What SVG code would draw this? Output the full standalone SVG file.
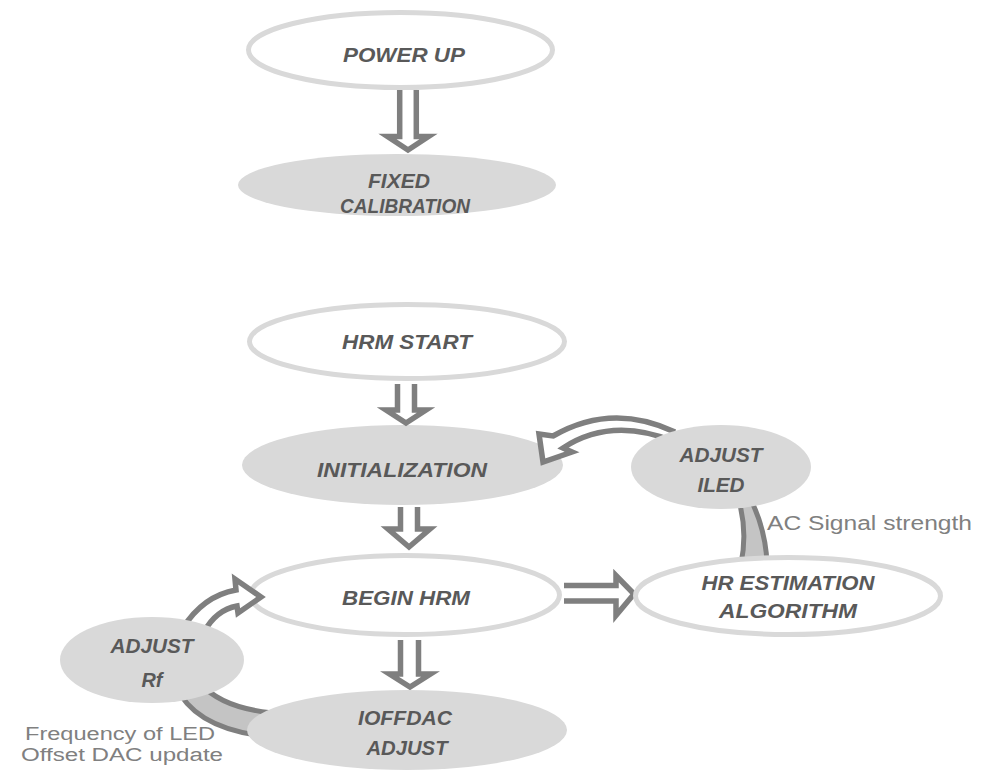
<svg xmlns="http://www.w3.org/2000/svg" width="985" height="773" viewBox="0 0 985 773">
<style>
.bg{fill:#ffffff}
.fill{fill:#d9d9d9;stroke:none}
.outline{fill:#ffffff;stroke:#d9d9d9;stroke-width:5}
.lbl{font-family:"Liberation Sans",Arial,sans-serif;font-weight:bold;font-style:italic;font-size:21px;fill:#595959;text-anchor:middle}
.note{font-family:"Liberation Sans",Arial,sans-serif;font-size:18px;fill:#808080;text-anchor:middle}
.note.big{font-size:20px}
.arr{fill:#ffffff;stroke:#7f7f7f;stroke-width:5.5;stroke-linejoin:miter}
.band{fill:#c4c4c4;stroke:#7f7f7f;stroke-width:5}
</style>
<rect class="bg" x="0" y="0" width="985" height="773"/>

<g id="node-initialization">
<ellipse class="fill" cx="402.5" cy="465" rx="160.5" ry="40"/>
<text class="lbl" x="402" y="477" textLength="170" lengthAdjust="spacingAndGlyphs">INITIALIZATION</text>
</g>
<g id="node-begin-hrm">
<ellipse class="outline" cx="405" cy="595" rx="154.5" ry="39.5"/>
<text class="lbl" x="406" y="605" textLength="128" lengthAdjust="spacingAndGlyphs">BEGIN HRM</text>
</g>

<g id="connectors">
<path class="band" d="M738 498 Q748 530 741 564 L767 564 Q766 530 750 498 Z"/>
<path class="band" d="M176 686 Q195 730 272 737 L290 714 Q225 712 200 683 Z"/>
<path class="arr" d="M399.7 90 L399.7 136.5 L387.5 136.5 L408 150 L428.5 136.5 L416.3 136.5 L416.3 90"/>
<path class="arr" d="M397.5 384 L397.5 410 L386 410 L406 423 L426 410 L414.5 410 L414.5 384"/>
<path class="arr" d="M400.5 507 L400.5 529 L388 529 L409 547 L430 529 L417.5 529 L417.5 507"/>
<path class="arr" d="M400.5 640 L400.5 674 L389.5 674 L410 687 L430.5 674 L418.5 674 L418.5 640"/>
<path class="arr" d="M564 585.5 L616 585.5 L616 575.5 L634 594 L616 615.5 L616 601 L564 601"/>
<path class="arr" d="M675 432 Q612 402 553 436 L539 434 L543 462 L572 452 L563 448 Q612 416 675 442"/>
<path class="arr" d="M183 628 Q203 596 236 590 L235 579 L261 597 L238 613 L237 606 Q216 610 204 632"/>
</g>

<g id="node-power-up">
<ellipse class="outline" cx="400.5" cy="50" rx="152" ry="37.5"/>
<text class="lbl" x="404" y="62" textLength="122" lengthAdjust="spacingAndGlyphs">POWER UP</text>
</g>
<g id="node-fixed-calibration">
<ellipse class="fill" cx="397" cy="185" rx="159" ry="31"/>
<text class="lbl" x="399" y="188" textLength="62" lengthAdjust="spacingAndGlyphs">FIXED</text>
<text class="lbl" x="405" y="213" textLength="130" lengthAdjust="spacingAndGlyphs">CALIBRATION</text>
</g>
<g id="node-hrm-start">
<ellipse class="outline" cx="407" cy="341.5" rx="157.5" ry="37"/>
<text class="lbl" x="407" y="349" textLength="130" lengthAdjust="spacingAndGlyphs">HRM START</text>
</g>
<g id="node-adjust-iled">
<ellipse class="fill" cx="721" cy="467" rx="90" ry="42"/>
<text class="lbl" x="721" y="462" textLength="83" lengthAdjust="spacingAndGlyphs">ADJUST</text>
<text class="lbl" x="721" y="492" textLength="47" lengthAdjust="spacingAndGlyphs">ILED</text>
</g>
<g id="node-hr-estimation">
<ellipse class="outline" cx="788" cy="596" rx="152.5" ry="38.5"/>
<text class="lbl" x="788" y="590" textLength="173" lengthAdjust="spacingAndGlyphs">HR ESTIMATION</text>
<text class="lbl" x="788" y="618" textLength="138" lengthAdjust="spacingAndGlyphs">ALGORITHM</text>
</g>
<g id="node-adjust-rf">
<ellipse class="fill" cx="152" cy="660" rx="92" ry="43"/>
<text class="lbl" x="152" y="653" textLength="83" lengthAdjust="spacingAndGlyphs">ADJUST</text>
<text class="lbl" x="152" y="687" textLength="21" lengthAdjust="spacingAndGlyphs">Rf</text>
</g>
<g id="node-ioffdac-adjust">
<ellipse class="fill" cx="407" cy="730" rx="160" ry="40"/>
<text class="lbl" x="405" y="725" textLength="94" lengthAdjust="spacingAndGlyphs">IOFFDAC</text>
<text class="lbl" x="407" y="755" textLength="81" lengthAdjust="spacingAndGlyphs">ADJUST</text>
</g>

<g id="labels">
<text class="note big" x="869.5" y="530" textLength="205" lengthAdjust="spacingAndGlyphs">AC Signal strength</text>
<text class="note" x="120" y="740" textLength="190" lengthAdjust="spacingAndGlyphs">Frequency of LED</text>
<text class="note" x="122" y="761" textLength="202" lengthAdjust="spacingAndGlyphs">Offset DAC update</text>
</g>
</svg>
